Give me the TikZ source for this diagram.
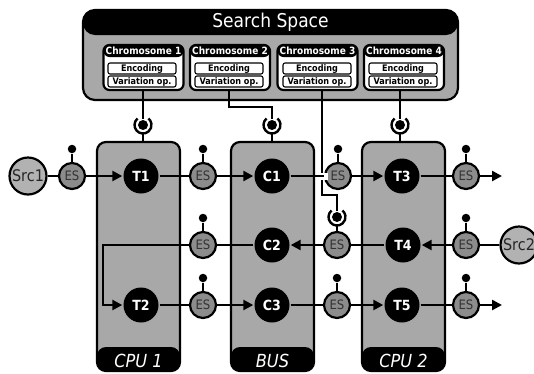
\documentclass[tikz,border=0pt]{standalone}
\usepackage{fontspec}
\setmainfont[FakeStretch=0.9]{DejaVu Sans}
\usetikzlibrary{arrows.meta}
\definecolor{boxgray}{gray}{0.66}
\definecolor{esgray}{gray}{0.55}
\definecolor{srcgray}{gray}{0.70}
\definecolor{estext}{gray}{0.2}
\begin{document}
\begin{tikzpicture}[x=1pt,y=-1pt, line width=2.4pt,
  task/.style={circle, fill=black, minimum size=35pt, inner sep=0pt, text=white, font=\bfseries\fontsize{14}{14}\selectfont},
  esnode/.style={circle, draw, line width=2.2pt, fill=esgray, minimum size=26pt, inner sep=0pt, text=estext, font=\fontsize{13}{13}\selectfont},
  srcnode/.style={circle, draw, line width=2.2pt, fill=srcgray, minimum size=37pt, inner sep=0pt, text=black!85, font=\fontsize{16}{16}\selectfont},
  dotnode/.style={circle, fill=black, minimum size=8.5pt, inner sep=0pt},
  ballnode/.style={circle, fill=black, minimum size=10pt, inner sep=0pt},
  socketnode/.style={circle, minimum size=17pt, inner sep=0pt, outer sep=0pt},
  unit/.style={draw, line width=2.2pt, rounded corners=9pt, fill=boxgray, minimum width=83pt, minimum height=229pt, inner sep=0pt,
    path picture={\fill[black] ([yshift=24pt]path picture bounding box.south west) rectangle (path picture bounding box.south east);}},
  unitlabel/.style={text=white, font=\itshape\fontsize{18}{18}\selectfont},
  space/.style={draw, line width=2.2pt, rounded corners=12pt, fill=boxgray, minimum width=375pt, minimum height=90pt, inner sep=0pt,
    path picture={\fill[black] (path picture bounding box.north west) rectangle ([yshift=-25pt]path picture bounding box.north east);}},
  spacelabel/.style={text=white, font=\fontsize{19}{19}\selectfont},
  chrom/.style={draw, line width=2.2pt, rounded corners=6pt, fill=white, minimum width=80pt, minimum height=45pt, inner sep=0pt,
    path picture={\fill[black] (path picture bounding box.north west) rectangle ([yshift=-12pt]path picture bounding box.north east);}},
  chromtitle/.style={text=white, font=\bfseries\fontsize{10}{10}\selectfont, inner sep=0pt},
  inbox/.style={draw, line width=1.1pt, rounded corners=2pt, fill=white, minimum width=68pt, minimum height=11pt, inner sep=0pt, text height=7pt, text depth=1.5pt, font=\bfseries\fontsize{9}{9}\selectfont},
  flow/.style={-{Triangle[length=10pt,width=10pt]}}
]
\useasboundingbox (0,0) rectangle (534,373);

% search space
\node[space] (ss) at (270.5,55) {};
\node[spacelabel] (sst) at (270.5,22.5) {Search Space};
\foreach \i/\x/\ix in {1/143.5/142, 2/230/229, 3/317.5/317, 4/404/403}{
  \node[chrom] (ch\i) at (\x,67.5) {};
  \node[chromtitle] (ch\i t) at (\x,51) {Chromosome \i};
  \node[inbox] (ch\i e) at (\ix,68.5) {Encoding};
  \node[inbox] (ch\i v) at (\ix,81.5) {Variation op.};
}

% processing units
\node[unit] (cpu1) at (138.5,256.5) {};
\node[unit] (bus) at (272.5,256.5) {};
\node[unit] (cpu2) at (403.5,256.5) {};
\node[unitlabel] (cpu1l) at ([yshift=11.5pt]cpu1.south) {CPU 1};
\node[unitlabel] (busl) at ([yshift=11.5pt]bus.south) {BUS};
\node[unitlabel] (cpu2l) at ([yshift=11.5pt]cpu2.south) {CPU 2};

% sockets on units
\foreach \n/\x/\u in {1/143/cpu1, 2/272/bus, 4/400/cpu2}{
  \node[ballnode] (ball\n) at (\x,125) {};
  \node[socketnode] (sock\n) at (\x,125) {};
  \draw (sock\n.130) arc[start angle=130, end angle=410, radius=8.5pt];
  \draw (sock\n.south) -- (sock\n.south |- \u.north);
}

% tasks
\node[task] (t1) at (141,176) {T1};
\node[task] (t2) at (141,305) {T2};
\node[task] (c1) at (272,176) {C1};
\node[task] (c2) at (272,245) {C2};
\node[task] (c3) at (272,305) {C3};
\node[task] (t3) at (402,176) {T3};
\node[task] (t4) at (403,245) {T4};
\node[task] (t5) at (402,305) {T5};

% sources
\node[srcnode] (src1) at (28,176) {Src1};
\node[srcnode] (src2) at (519,245) {Src2};

% ES nodes
\node[esnode] (esA) at (72,176) {ES};
\node[esnode] (esB) at (203,176) {ES};
\node[esnode] (esC) at (338,176) {ES};
\node[esnode] (esD) at (466,176) {ES};
\node[esnode] (esF) at (203,245) {ES};
\node[esnode] (esG) at (337,245) {ES};
\node[esnode] (esH) at (466,245) {ES};
\node[esnode] (esI) at (203,305) {ES};
\node[esnode] (esJ) at (337,305) {ES};
\node[esnode] (esK) at (466,305) {ES};

% lollipops
\foreach \e in {esA,esB,esC,esD,esF,esH,esI,esJ,esK}{
  \node[dotnode] (\e dot) at ([yshift=27pt]\e.center) {};
  \draw (\e dot) -- (\e);
}

% socket on ES (row 2)
\node[ballnode] (ball3) at (337,217) {};
\node[socketnode] (sock3) at (337,217) {};
\draw (sock3.130) arc[start angle=130, end angle=410, radius=8.5pt];
\draw (sock3.south) -- (esG);

% chromosome connectors
\draw (ch1.south -| ball1) -- (ball1);
\coordinate (k2a) at (229,107);
\draw (ch2.south -| k2a) -- (k2a) -| (ball2);
\coordinate (k3a) at (322,195);
\draw (ch3.south -| k3a) -- (k3a) -| (ball3);
\draw (ch4.south -| ball4) -- (ball4);
\draw[white, line width=7pt] (316.5,176) -- (327.5,176);

% row 1
\coordinate (endA) at (502,176);
\draw (src1) -- (esA);
\draw[flow] (esA) -- (t1);
\draw (t1) -- (esB);
\draw[flow] (esB) -- (c1);
\draw (c1) -- (esC);
\draw[flow] (esC) -- (t3);
\draw (t3) -- (esD);
\draw[flow] (esD) -- (endA);

% row 2
\coordinate (bend) at (103,245);
\draw (src2) -- (esH);
\draw[flow] (esH) -- (t4);
\draw (t4) -- (esG);
\draw[flow] (esG) -- (c2);
\draw (c2) -- (esF);
\draw[flow] (esF) -- (bend) |- (t2);

% row 3
\coordinate (endB) at (502,305);
\draw (t2) -- (esI);
\draw[flow] (esI) -- (c3);
\draw (c3) -- (esJ);
\draw[flow] (esJ) -- (t5);
\draw (t5) -- (esK);
\draw[flow] (esK) -- (endB);
\end{tikzpicture}
\end{document}
